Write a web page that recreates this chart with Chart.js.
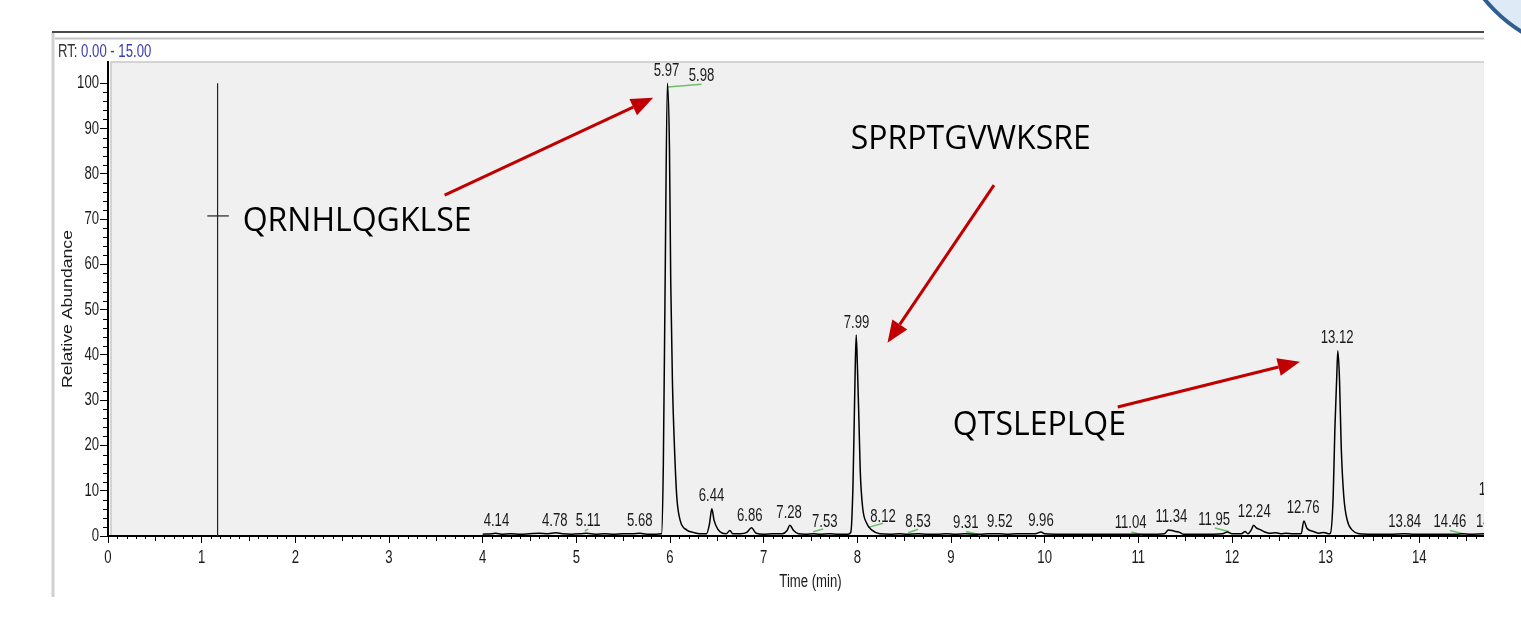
<!DOCTYPE html>
<html>
<head>
<meta charset="utf-8">
<title>RT 0.00 - 15.00</title>
<script src="https://cdn.jsdelivr.net/npm/chart.js@4.4.1/dist/chart.umd.min.js"></script>
<style>
  html, body { margin: 0; padding: 0; background: #fff; }
  #wrap { position: relative; width: 1521px; height: 622px; }
</style>
</head>
<body>
<div id="wrap"><canvas id="chart"></canvas></div>
<script>
// Chromatogram trace (time in min, relative abundance in %)
const times = [
  4.00, 4.10, 4.14, 4.20, 4.30, 4.40, 4.50, 4.60, 4.70, 4.78, 4.85, 4.95, 5.05, 5.11, 5.20, 5.30,
  5.40, 5.50, 5.60, 5.68, 5.75, 5.85, 5.91, 5.929, 5.948, 5.972, 5.994, 6.008, 6.026, 6.047, 6.073,
  6.108, 6.18, 6.25, 6.32, 6.39, 6.42, 6.447, 6.47, 6.51, 6.56, 6.60, 6.64, 6.67, 6.75, 6.82, 6.87,
  6.92, 7.00, 7.10, 7.20, 7.25, 7.28, 7.32, 7.37, 7.45, 7.53, 7.60, 7.70, 7.80, 7.90, 7.93, 7.953,
  7.967, 7.977, 7.988, 8.002, 8.017, 8.031, 8.056, 8.10, 8.156, 8.24, 8.35, 8.45, 8.53, 8.65, 8.75,
  8.85, 8.95, 9.05, 9.15, 9.25, 9.31, 9.40, 9.52, 9.60, 9.70, 9.80, 9.90, 9.96, 10.00, 10.10, 10.20,
  10.30, 10.40, 10.50, 10.60, 10.70, 10.80, 10.90, 11.00, 11.04, 11.10, 11.20, 11.28, 11.32, 11.36,
  11.40, 11.44, 11.48, 11.60, 11.70, 11.80, 11.90, 11.95, 12.00, 12.10, 12.14, 12.17, 12.21, 12.23,
  12.26, 12.30, 12.35, 12.40, 12.47, 12.52, 12.58, 12.65, 12.72, 12.74, 12.767, 12.80, 12.87, 12.93,
  12.98, 13.03, 13.05, 13.08, 13.098, 13.117, 13.13, 13.148, 13.166, 13.194, 13.23, 13.284, 13.355,
  13.45, 13.60, 13.70, 13.84, 13.95, 14.10, 14.25, 14.40, 14.46, 14.55, 14.70, 14.85, 15.00
];
const abundance = [
  0.4, 0.5, 0.6, 0.4, 0.5, 0.4, 0.5, 0.6, 0.5, 0.7, 0.5, 0.4, 0.5, 0.6, 0.4, 0.5,
  0.4, 0.5, 0.5, 0.6, 0.4, 0.4, 0.5, 16, 56, 100, 86, 56, 34, 20, 8.5,
  3.5, 1.3, 0.8, 0.5, 0.5, 2.5, 6.0, 3.5, 1.5, 0.6, 0.5, 1.2, 0.5, 0.5, 0.8, 1.8,
  0.6, 0.4, 0.5, 0.5, 1.2, 2.4, 1.2, 0.5, 0.4, 0.5, 0.4, 0.5, 0.4, 0.4, 0.8, 10.8,
  25.6, 36.6, 44.4, 36.6, 25.6, 14.5, 6.4, 2.8, 1.3, 0.5, 0.4, 0.5, 0.4, 0.5, 0.4,
  0.4, 0.5, 0.4, 0.5, 0.4, 0.4, 0.5, 0.5, 0.4, 0.5, 0.5, 0.5, 0.9, 0.5, 0.4, 0.4,
  0.4, 0.4, 0.4, 0.4, 0.4, 0.4, 0.4, 0.4, 0.4, 0.4, 0.4, 0.5, 1.3, 1.2,
  1.0, 0.8, 0.4, 0.4, 0.4, 0.4, 0.5, 0.9, 0.5, 0.5, 1.0, 0.5, 1.5, 2.4,
  1.8, 1.4, 0.9, 0.6, 0.7, 0.5, 0.6, 0.5, 0.5, 0.6, 3.3, 1.7, 1.0, 0.6,
  0.8, 0.5, 0.6, 8.6, 23.4, 34.4, 40.9, 34.4, 19.7, 8.6, 3.5, 1.3, 0.5,
  0.4, 0.4, 0.4, 0.5, 0.4, 0.4, 0.4, 0.4, 0.5, 0.4, 0.5, 0.4, 0.4
];

// Marker line at RT 1.17
const markerTime = 1.17;
const markerLevel = 70.7;

// Peak labels: text, anchor time, anchor level
const peakLabels = ['4.14', '4.78', '5.11', '5.68', '5.97', '5.98', '6.44', '6.86', '7.28', '7.53',
  '7.99', '8.12', '8.53', '9.31', '9.52', '9.96', '11.04', '11.34', '11.95', '12.24', '12.76',
  '13.12', '13.84', '14.46', '14.72', '14.89'];
const peakLabelX = [4.147, 4.77, 5.126, 5.678, 5.963, 6.336, 6.443, 6.852, 7.272, 7.653,
  7.991, 8.275, 8.649, 9.159, 9.52, 9.96, 10.918, 11.353, 11.81, 12.238, 12.759,
  13.123, 13.844, 14.327, 14.78, 14.81];
const peakLabelY = [3.2, 3.2, 3.2, 3.2, 102.8, 101.5, 8.9, 4.5, 5.0, 3.0,
  47.1, 4.1, 3.0, 2.8, 3.0, 3.3, 2.8, 4.1, 3.5, 5.3, 6.1,
  43.7, 3.1, 3.0, 3.0, 10.2];

// Green integration marks [x1, y1, x2, y2]
const greenMarks = [
  [5.09, 1.1, 5.126, 1.5], [5.976, 99.2, 6.336, 99.8], [7.528, 0.95, 7.635, 1.55],
  [8.115, 1.9, 8.275, 2.8], [8.542, 0.73, 8.649, 1.5], [9.159, 0.99, 9.319, 0.22],
  [10.926, 0.88, 11.038, 0.29], [11.817, 1.77, 11.966, 0.99], [14.327, 1.2, 14.476, 0.44]
];

// Peptide annotations and arrows (data units)
const peptides = ['QRNHLQGKLSE', 'SPRPTGVWKSRE', 'QTSLEPLQE'];
const peptideX = [1.438, 7.93, 9.02];
const peptideY = [69.4, 87.5, 24.3];
const arrowFrom = [[3.594, 75.3], [9.459, 77.5], [10.78, 28.5]];
const arrowTo = [[5.82, 96.8], [8.322, 42.7], [12.725, 38.5]];

const sans = '"Liberation Sans", Arial, sans-serif';

const tracePoints = times.map((t, i) => ({ x: t, y: abundance[i] }));
const greenPoints = [];
greenMarks.forEach(m => {
    greenPoints.push({ x: m[0], y: m[1] }, { x: m[2], y: m[3] }, { x: null, y: null });
});

// the source screenshot is stretched vertically, so its text looks condensed
function tallText(ctx, text, x, y, align, color) {
    ctx.save();
    ctx.translate(x, y);
    ctx.scale(0.73, 1);
    ctx.font = '18px ' + sans;
    ctx.textAlign = align;
    ctx.textBaseline = 'middle';
    ctx.fillStyle = color;
    ctx.fillText(text, 0, 0);
    ctx.restore();
}

const framePlugin = {
    id: 'frame',
    beforeDraw(chart) {
        const ctx = chart.ctx;
        const a = chart.chartArea;
        ctx.save();
        ctx.fillStyle = '#fff';
        ctx.fillRect(0, 0, chart.width, chart.height);
        ctx.fillStyle = '#f0f0f0';
        ctx.fillRect(a.left + 3, a.top, a.right - a.left - 3, a.bottom - a.top);
        ctx.strokeStyle = '#c8c8c8';
        ctx.lineWidth = 1.5;
        ctx.strokeRect(a.left + 3, a.top, a.right - a.left, a.bottom - a.top);
        // panel borders
        ctx.strokeStyle = '#d0d0d0';
        ctx.lineWidth = 3;
        ctx.beginPath();
        ctx.moveTo(53, 32);
        ctx.lineTo(53, 597);
        ctx.stroke();
        ctx.strokeStyle = '#4a4a4a';
        ctx.lineWidth = 2;
        ctx.beginPath();
        ctx.moveTo(52, 32);
        ctx.lineTo(1484, 32);
        ctx.stroke();
        ctx.strokeStyle = '#c4c4c4';
        ctx.beginPath();
        ctx.moveTo(55, 38.5);
        ctx.lineTo(1484, 38.5);
        ctx.stroke();
        // RT header
        tallText(ctx, 'RT:', 58, 52, 'left', '#333');
        ctx.font = '18px ' + sans;
        const w = ctx.measureText('RT: ').width * 0.73;
        tallText(ctx, '0.00 - 15.00', 58 + w, 52, 'left', '#3a3ab0');
        ctx.restore();
    },
    afterDatasetsDraw(chart) {
        const ctx = chart.ctx;
        const xs = chart.scales.x;
        const ys = chart.scales.y;
        ctx.save();
        // minor ticks
        ctx.strokeStyle = '#000';
        ctx.lineWidth = 1;
        const base = ys.getPixelForValue(0);
        for (let i = 1; i < 150; i++) {
            if (i % 10 === 0) continue;
            const px = Math.round(xs.getPixelForValue(i / 10)) + 0.5;
            const len = i % 5 === 0 ? 5 : 3;
            ctx.beginPath();
            ctx.moveTo(px, base);
            ctx.lineTo(px, base + len);
            ctx.stroke();
        }
        const axisX = xs.getPixelForValue(0);
        for (let v = 2; v <= 100; v += 2) {
            if (v % 10 === 0) continue;
            const py = Math.round(ys.getPixelForValue(v)) + 0.5;
            ctx.beginPath();
            ctx.moveTo(axisX, py);
            ctx.lineTo(axisX - 5, py);
            ctx.stroke();
        }
        // tick labels
        xs.ticks.forEach(t => {
            tallText(ctx, String(t.value), xs.getPixelForValue(t.value), 558, 'center', '#1a1a1a');
        });
        ys.ticks.forEach(t => {
            tallText(ctx, String(t.value), 99, ys.getPixelForValue(t.value), 'right', '#1a1a1a');
        });
        // axis titles
        tallText(ctx, 'Time (min)', xs.getPixelForValue(7.5), 582, 'center', '#1a1a1a');
        ctx.save();
        ctx.translate(68, 309);
        ctx.rotate(-Math.PI / 2);
        ctx.scale(1.26, 1);
        ctx.font = '14px ' + sans;
        ctx.textAlign = 'center';
        ctx.textBaseline = 'middle';
        ctx.fillStyle = '#1a1a1a';
        ctx.fillText('Relative Abundance', 0, 0);
        ctx.restore();
        // peak labels
        peakLabels.forEach((t, i) => {
            tallText(ctx, t, xs.getPixelForValue(peakLabelX[i]), ys.getPixelForValue(peakLabelY[i]), 'center', '#1a1a1a');
        });
        // peptide names
        ctx.font = '32px "Open Sans", sans-serif';
        ctx.fillStyle = '#000';
        ctx.textAlign = 'left';
        ctx.textBaseline = 'middle';
        peptides.forEach((t, i) => {
            ctx.fillText(t, xs.getPixelForValue(peptideX[i]), ys.getPixelForValue(peptideY[i]));
        });
        // arrows
        ctx.strokeStyle = '#c00000';
        ctx.fillStyle = '#c00000';
        ctx.lineWidth = 3;
        arrowFrom.forEach((f, i) => {
            const x1 = xs.getPixelForValue(f[0]), y1 = ys.getPixelForValue(f[1]);
            const x2 = xs.getPixelForValue(arrowTo[i][0]), y2 = ys.getPixelForValue(arrowTo[i][1]);
            const ang = Math.atan2(y2 - y1, x2 - x1);
            const head = 22, half = 9;
            const bx = x2 - head * Math.cos(ang), by = y2 - head * Math.sin(ang);
            ctx.beginPath();
            ctx.moveTo(x1, y1);
            ctx.lineTo(bx, by);
            ctx.stroke();
            ctx.beginPath();
            ctx.moveTo(x2, y2);
            ctx.lineTo(bx + half * Math.sin(ang), by - half * Math.cos(ang));
            ctx.lineTo(bx - half * Math.sin(ang), by + half * Math.cos(ang));
            ctx.closePath();
            ctx.fill();
        });
        ctx.restore();
    },
    afterDraw(chart) {
        // the figure is cropped on the right
        const ctx = chart.ctx;
        ctx.save();
        ctx.fillStyle = '#fff';
        ctx.fillRect(1484, 0, chart.width - 1484, chart.height);
        ctx.beginPath();
        ctx.arc(1600, -95, 149, 0, Math.PI * 2);
        ctx.fillStyle = '#deeaf6';
        ctx.fill();
        ctx.strokeStyle = '#2f5f8f';
        ctx.lineWidth = 4;
        ctx.stroke();
        ctx.restore();
    }
};

document.addEventListener('DOMContentLoaded', function () {
    const ctx = document.getElementById('chart');
    new Chart(ctx, {
        type: 'line',
        data: {
            datasets: [
                {
                    label: 'TIC',
                    data: tracePoints,
                    borderColor: '#000',
                    borderWidth: 1.5,
                    pointRadius: 0,
                    cubicInterpolationMode: 'monotone'
                },
                {
                    label: 'marker',
                    data: [{ x: markerTime, y: 0 }, { x: markerTime, y: 100 }],
                    borderColor: '#222',
                    borderWidth: 1.2,
                    pointRadius: 0
                },
                {
                    label: 'marker tick',
                    data: [{ x: markerTime - 0.11, y: markerLevel }, { x: markerTime + 0.12, y: markerLevel }],
                    borderColor: '#222',
                    borderWidth: 1.2,
                    pointRadius: 0
                },
                {
                    label: 'integration',
                    data: greenPoints,
                    borderColor: '#6cc06a',
                    borderWidth: 1.5,
                    pointRadius: 0,
                    spanGaps: false
                }
            ]
        },
        options: {
            responsive: true,
            maintainAspectRatio: false,
            animation: false,
            devicePixelRatio: 1,
            parsing: false,
            layout: { padding: { top: 62, right: 8, bottom: 0, left: 0 } },
            plugins: {
                legend: { display: false },
                tooltip: { enabled: false }
            },
            scales: {
                x: {
                    type: 'linear',
                    min: 0,
                    max: 15,
                    ticks: { stepSize: 1, includeBounds: false, display: false },
                    grid: { drawOnChartArea: false, tickLength: 7, tickColor: '#000', tickWidth: 1 },
                    border: { color: '#000', width: 2 },
                    afterFit(scale) {
                        scale.height = 86;
                        scale.paddingLeft = 0;
                        scale.paddingRight = 0;
                    }
                },
                y: {
                    min: 0,
                    max: 104.7,
                    ticks: { stepSize: 10, includeBounds: false, display: false },
                    grid: { drawOnChartArea: false, tickLength: 8, tickColor: '#000', tickWidth: 1 },
                    border: { color: '#000', width: 2 },
                    afterFit(scale) {
                        scale.width = 108;
                        scale.paddingTop = 0;
                        scale.paddingBottom = 0;
                    }
                }
            }
        },
        plugins: [framePlugin]
    });
});
</script>
</body>
</html>
